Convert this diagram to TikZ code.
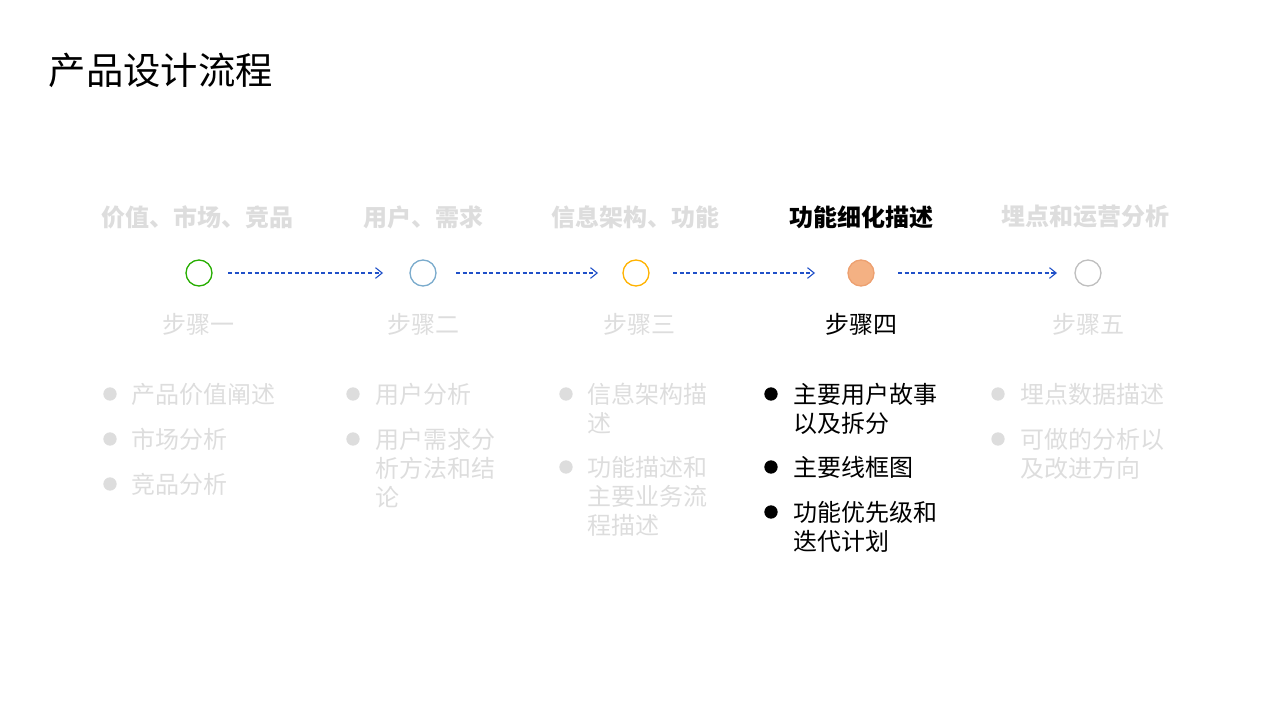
\documentclass[tikz,border=0pt]{standalone}
\usepackage{fontspec}
\newfontfamily\cjk{Noto Sans CJK SC}
\usetikzlibrary{arrows.meta}
\definecolor{lg}{HTML}{DDDDDD}
\definecolor{ab}{HTML}{2050C8}
\begin{document}
\begin{tikzpicture}[x=0.75pt,y=-0.75pt,
 every node/.style={font=\cjk},
 ttl/.style={font=\cjk\bfseries\fontsize{18}{22}\selectfont,text=lg},
 stp/.style={font=\cjk\fontsize{18}{22}\selectfont,text=lg},
 itm/.style={anchor=north west,align=left,inner sep=0pt,font=\cjk\fontsize{18}{21.75}\selectfont,text=lg},
 dot/.style={circle,fill=lg,minimum size=10pt,inner sep=0pt},
 ring/.style={circle,draw,line width=1pt,minimum size=19.5pt,inner sep=0pt},
 arr/.style={ab,densely dashed,line width=0.8pt,-{Straight Barb[length=5pt,width=8pt]}}]
\useasboundingbox (0,0) rectangle (1280,720);
\node[anchor=west,font=\cjk\fontsize{28}{32}\selectfont] (T) at (44,70) {产品设计流程};
% titles
\node[ttl] (t1) at (197,217) {价值、市场、竞品};
\node[ttl] (t2) at (423,217) {用户、需求};
\node[ttl] (t3) at (635,217) {信息架构、功能};
\node[ttl,text=black] (t4) at (861,217) {功能细化描述};
\node[ttl] (t5) at (1085,217) {埋点和运营分析};
% circles
\node[ring,draw=green!60!black!80!lime] (c1) at (199,273) {};
\node[ring,draw=blue!40!cyan!40!white!80!black] (c2) at (423,273) {};
\node[ring,draw=orange!60!yellow] (c3) at (636,273) {};
\node[ring,draw={rgb,255:red,237;green,160;blue,112},fill={rgb,255:red,244;green,177;blue,131}] (c4) at (861,273) {};
\node[ring,draw={rgb,255:red,191;green,191;blue,191}] (c5) at (1088,273) {};
\coordinate (a1) at (228,273); \coordinate (b1) at (383,273);
\coordinate (a2) at (456,273); \coordinate (b2) at (598,273);
\coordinate (a3) at (673,273); \coordinate (b3) at (815,273);
\coordinate (a4) at (898,273); \coordinate (b4) at (1057,273);
\draw[arr] (a1) -- (b1); \draw[arr] (a2) -- (b2); \draw[arr] (a3) -- (b3); \draw[arr] (a4) -- (b4);
% steps
\node[stp] (s1) at (198,324) {步骤一};
\node[stp] (s2) at (423,324) {步骤二};
\node[stp] (s3) at (639,324) {步骤三};
\node[stp,text=black] (s4) at (861,324) {步骤四};
\node[stp] (s5) at (1088,324) {步骤五};
% column 1
\foreach \y/\t [count=\i] in {394/产品价值阐述,439/市场分析,484/竞品分析}{
 \node[dot] (d1\i) at (110,\y) {}; \node[itm] (i1\i) at (131,\y-11) {\t};}
% column 2
\node[dot] (d21) at (353,394) {}; \node[itm] (i21) at (375,383) {用户分析};
\node[dot] (d22) at (353,439) {}; \node[itm] (i22) at (375,428) {用户需求分\\析方法和结\\论};
% column 3
\node[dot] (d31) at (566,394) {}; \node[itm] (i31) at (587,383) {信息架构描\\述};
\node[dot] (d32) at (566,467) {}; \node[itm] (i32) at (587,456) {功能描述和\\主要业务流\\程描述};
% column 4
\node[dot,fill=black] (d41) at (771,394) {}; \node[itm,text=black] (i41) at (793,383) {主要用户故事\\以及拆分};
\node[dot,fill=black] (d42) at (771,467) {}; \node[itm,text=black] (i42) at (793,456) {主要线框图};
\node[dot,fill=black] (d43) at (771,512) {}; \node[itm,text=black] (i43) at (793,501) {功能优先级和\\迭代计划};
% column 5
\node[dot] (d51) at (998,394) {}; \node[itm] (i51) at (1020,383) {埋点数据描述};
\node[dot] (d52) at (998,439) {}; \node[itm] (i52) at (1020,428) {可做的分析以\\及改进方向};
\end{tikzpicture}
\end{document}
